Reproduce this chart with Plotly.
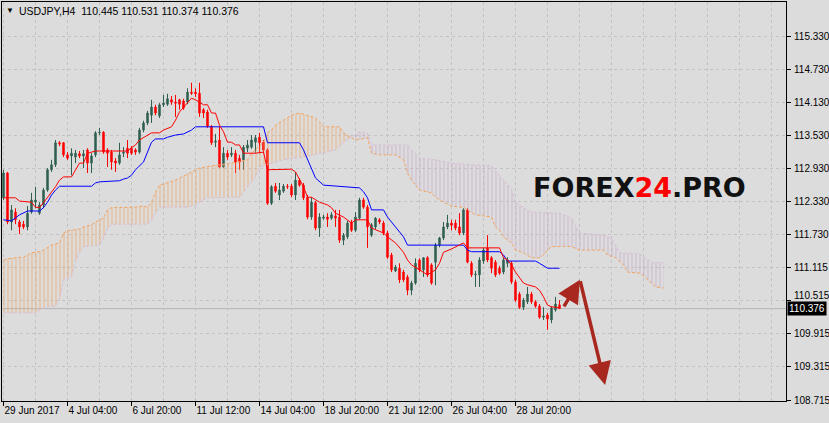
import plotly.graph_objects as go

# ---------------- data (USDJPY H4) ----------------
bars = list(range(140))
open_ = [112.39,112.84,111.95,112.13,111.95,111.91,111.86,112.13,112.31,112.11,
         112.26,112.53,112.90,112.99,113.39,113.39,113.17,113.15,113.13,113.19,
         113.15,113.26,113.02,113.17,113.57,113.58,113.26,113.22,113.06,113.02,
         113.20,113.29,113.29,113.26,113.22,113.62,113.75,113.89,114.04,113.88,
         114.08,114.09,114.17,114.13,114.17,114.15,114.13,114.31,114.31,114.29,
         113.99,113.95,113.69,113.40,113.44,112.95,113.20,113.17,113.20,113.11,
         113.08,113.29,113.31,113.40,113.49,113.40,113.26,112.29,112.60,112.44,
         112.51,112.60,112.60,112.44,112.71,112.62,112.40,112.04,112.30,111.84,
         112.02,112.04,112.02,112.06,112.04,111.62,111.68,111.95,111.80,112.02,
         112.35,112.22,111.71,111.86,111.99,111.93,111.75,111.35,111.06,111.11,
         111.04,110.95,110.71,110.84,111.26,111.08,111.30,111.17,111.22,111.53,
         111.66,111.86,111.93,111.93,111.86,111.75,112.17,111.20,110.99,110.99,
         111.24,111.48,111.30,111.22,111.11,111.04,111.20,111.20,110.86,110.64,
         110.40,110.50,110.64,110.50,110.42,110.22,110.26,110.17,110.35,110.445]
high = [112.90,112.86,112.26,112.20,111.99,111.97,112.24,112.48,112.59,112.31,
        112.57,112.93,113.08,113.44,113.42,113.40,113.22,113.29,113.26,113.24,
        113.26,113.29,113.20,113.60,113.66,113.60,113.29,113.26,113.11,113.39,
        113.31,113.44,113.33,113.29,113.66,113.79,113.97,114.17,114.08,114.11,
        114.26,114.28,114.24,114.26,114.19,114.19,114.38,114.48,114.38,114.48,
        114.02,113.99,113.71,113.55,113.68,113.31,113.26,113.31,113.26,113.17,
        113.35,113.44,113.53,113.53,113.57,113.44,113.29,112.62,112.66,112.66,
        112.64,112.64,112.64,112.86,112.75,112.66,112.44,112.40,112.33,112.11,
        112.08,112.11,112.13,112.17,112.17,111.75,111.97,111.99,112.13,112.39,
        112.39,112.26,111.93,112.04,112.02,111.97,111.79,111.39,111.17,111.20,
        111.08,110.99,110.88,111.29,111.29,111.31,111.33,111.20,111.57,111.68,
        111.95,112.08,111.99,111.99,112.11,112.20,112.20,111.24,111.06,111.31,
        111.48,111.71,111.33,111.26,111.15,111.30,111.31,111.24,110.90,110.68,
        110.57,110.77,110.68,110.53,110.46,110.40,110.30,110.42,110.59,110.531]
low = [112.35,111.91,111.80,111.91,111.73,111.82,111.80,112.10,112.20,112.08,
       112.20,112.50,112.86,112.95,113.33,113.13,113.08,112.80,113.02,113.11,
       112.93,112.84,112.84,113.13,113.53,113.19,112.95,112.90,112.86,112.99,
       113.13,113.11,113.17,113.17,113.19,113.58,113.71,113.75,113.89,113.84,
       114.04,114.06,114.08,113.86,113.99,113.99,114.09,114.26,114.22,113.86,
       113.84,113.66,113.35,113.31,112.93,112.93,113.08,113.13,112.84,112.90,
       112.90,113.22,113.28,113.20,113.20,113.20,112.26,112.26,112.48,112.35,
       112.48,112.55,112.40,112.35,112.59,112.35,112.00,111.99,111.80,111.68,
       111.99,111.86,111.99,111.86,111.57,111.53,111.64,111.77,111.77,111.99,
       112.19,111.48,111.68,111.82,111.91,111.71,111.28,111.04,111.04,110.84,
       110.86,110.62,110.62,110.81,111.04,110.95,110.95,110.81,110.80,111.49,
       111.62,111.82,111.80,111.80,111.71,111.71,111.20,110.95,110.77,110.77,
       111.19,111.22,111.02,110.95,110.99,111.00,111.13,110.82,110.50,110.37,
       110.35,110.46,110.46,110.39,110.19,110.17,109.99,110.11,110.32,110.374]
close = [112.84,111.95,112.17,111.99,111.86,111.86,112.11,112.35,112.35,112.26,
         112.53,112.90,112.99,113.39,113.37,113.17,113.11,113.20,113.20,113.15,
         113.19,113.02,113.15,113.57,113.58,113.22,113.20,113.04,113.02,113.17,
         113.22,113.20,113.20,113.22,113.62,113.75,113.93,114.04,113.93,114.08,
         114.11,114.19,114.13,114.11,114.09,114.02,114.31,114.29,114.28,113.93,
         113.93,113.69,113.39,113.42,112.95,113.20,113.13,113.20,113.04,113.04,
         113.31,113.35,113.44,113.48,113.39,113.26,112.29,112.59,112.51,112.53,
         112.60,112.59,112.44,112.71,112.62,112.39,112.04,112.31,111.84,112.04,
         112.04,112.00,112.08,112.02,111.62,111.71,111.93,111.80,112.04,112.35,
         112.22,111.86,111.90,112.02,111.95,111.75,111.31,111.08,111.13,110.90,
         110.90,110.71,110.84,111.20,111.08,111.30,110.99,110.84,111.53,111.66,
         111.86,111.93,111.89,111.84,111.75,112.17,111.22,110.99,111.00,111.26,
         111.44,111.26,111.11,110.99,111.02,111.26,111.26,110.86,110.53,110.40,
         110.53,110.64,110.50,110.42,110.22,110.24,110.19,110.39,110.46,110.376]

tenkan_bar = [0,3,4,7,8,9,10,12,13,14,15,17,18,19,20,21,23,31,32,33,34,37,39,40,42,43,44,45,46,47,48,50,51,52,53,54,55,56,57,58,59,60,63,65,66,72,73,74,75,76,77,79,81,82,83,85,87,88,91,92,95,96,98,100,101,102,104,106,108,109,110,112,115,116,124,125,126,127,128,130,131,133,134,135,136,137,139]
tenkan_val = [112.39,112.39,112.33,112.31,112.22,112.21,112.30,112.48,112.59,112.71,112.77,112.77,112.90,113.02,113.02,113.20,113.24,113.24,113.30,113.35,113.44,113.57,113.57,113.62,113.68,113.80,113.95,114.04,114.13,114.20,114.17,114.08,114.08,113.93,113.93,113.71,113.59,113.40,113.40,113.35,113.35,113.20,113.20,113.22,112.90,112.91,112.86,112.71,112.59,112.40,112.40,112.31,112.26,112.21,112.11,112.04,111.93,111.99,111.99,111.84,111.75,111.68,111.57,111.40,111.26,111.17,111.08,110.99,111.08,111.20,111.40,111.46,111.57,111.48,111.48,111.30,111.26,111.17,111.04,110.84,110.81,110.77,110.71,110.59,110.44,110.41,110.39]

kijun_bar = [0,2,4,5,6,9,10,11,12,13,14,22,23,24,29,30,31,32,33,35,36,37,38,40,41,43,45,46,47,48,65,66,74,75,76,77,78,80,84,89,90,91,92,95,96,97,99,100,101,115,116,117,124,125,126,133,134,136,139]
kijun_val = [111.99,111.97,112.08,112.11,112.15,112.15,112.21,112.31,112.44,112.53,112.60,112.60,112.66,112.68,112.70,112.73,112.75,112.80,112.90,113.04,113.22,113.40,113.46,113.46,113.49,113.53,113.55,113.59,113.62,113.68,113.68,113.39,113.39,113.26,113.08,112.90,112.75,112.62,112.60,112.57,112.50,112.39,112.17,112.17,112.04,111.95,111.75,111.68,111.53,111.53,111.44,111.41,111.41,111.35,111.24,111.24,111.20,111.11,111.11]

spanA_bar = [0,1,3,5,6,7,9,10,12,14,15,16,17,19,20,22,23,24,25,26,27,33,35,36,37,38,39,43,49,52,54,57,61,62,65,66,67,68,70,72,74,76,78,79,80,84,85,87,88,91,92,94,98,100,101,102,103,104,107,108,110,112,114,115,116,118,122,123,124,125,127,128,130,132,134,135,136,137,141,142,144,150,151,153,155,156,159,160,162,163,165]
spanA_val = [111.26,111.28,111.30,111.31,111.35,111.39,111.41,111.44,111.53,111.57,111.75,111.79,111.80,111.82,111.86,111.90,111.95,111.99,112.02,112.17,112.21,112.22,112.24,112.22,112.31,112.49,112.62,112.71,112.93,112.97,112.99,113.02,113.08,113.20,113.40,113.57,113.62,113.71,113.80,113.89,113.93,113.89,113.84,113.77,113.68,113.68,113.57,113.48,113.44,113.48,113.20,113.17,113.17,113.08,112.84,112.71,112.62,112.53,112.48,112.40,112.31,112.24,112.22,112.22,112.17,112.08,112.04,111.86,111.80,111.68,111.57,111.44,111.39,111.30,111.30,111.35,111.44,111.50,111.51,111.50,111.44,111.44,111.35,111.30,111.17,111.04,111.02,110.97,110.84,110.77,110.75]

spanB_bar = [0,8,9,11,13,14,15,17,18,19,20,24,25,26,27,36,37,38,39,46,48,49,51,59,61,63,64,67,70,75,83,85,87,89,91,92,101,102,103,104,108,112,117,122,124,127,128,130,132,139,142,144,150,152,153,154,159,162,165]
spanB_val = [110.30,110.30,110.35,110.41,110.42,110.53,110.90,110.95,111.24,111.39,111.50,111.53,111.66,111.84,111.91,111.91,111.99,112.11,112.22,112.22,112.26,112.31,112.39,112.40,112.59,112.77,112.95,113.02,113.08,113.13,113.26,113.40,113.49,113.59,113.57,113.35,113.35,113.26,113.20,113.11,113.08,113.02,112.99,112.97,112.79,112.55,112.31,112.21,112.13,112.11,112.02,111.75,111.71,111.66,111.53,111.39,111.37,111.22,111.21]

cloud_cross_bar = 87          # span A above B before, below after

x_tick_bars = [0, 16, 32, 48, 64, 80, 96, 112, 128]
x_tick_labels = ["29 Jun 2017", "4 Jul 04:00", "6 Jul 20:00", "11 Jul 12:00",
                 "14 Jul 04:00", "18 Jul 20:00", "21 Jul 12:00", "26 Jul 04:00",
                 "28 Jul 20:00"]
y_ticks = [108.715, 109.315, 109.915, 110.515, 111.115, 111.730,
           112.330, 112.930, 113.530, 114.130, 114.730, 115.330]

symbol = "USDJPY,H4"
forecast_bar = [139.9, 144.1, 150.4]
forecast_price = [110.39, 110.90, 108.99]

# ---------------- styles ----------------
BG = "#DCDCDC"
GRID = "#C3C3C3"
BULL = "#2F5F4F"
BEAR = "#FF0000"
SANDY = "#F4A460"
THISTLE = "#D8BFD8"
ARROW = "#A82820"
FONT = "Liberation Sans"


def part(xs, ys, lo, hi):
    px, py = [], []
    for a, b in zip(xs, ys):
        if lo <= a <= hi:
            px.append(a)
            py.append(b)
    return px, py


fig = go.Figure()

# cloud hatching
regions = [(-1, cloud_cross_bar, "rgba(244,164,96,1)"),
           (cloud_cross_bar, 999, "rgba(200,170,200,1)")]
for lo, hi, col in regions:
    bx, by = part(spanB_bar, spanB_val, lo, hi)
    ax_, ay_ = part(spanA_bar, spanA_val, lo, hi)
    fig.add_trace(go.Scatter(x=bx, y=by, mode="lines", line=dict(width=0),
                             hoverinfo="skip"))
    fig.add_trace(go.Scatter(x=ax_, y=ay_, mode="lines", line=dict(width=0),
                             fill="tonexty", fillcolor="rgba(0,0,0,0)",
                             fillpattern=dict(shape="|", size=4, solidity=0.22,
                                              fgcolor=col, fgopacity=0.8),
                             hoverinfo="skip"))

fig.add_trace(go.Scatter(x=spanB_bar, y=spanB_val, mode="lines",
                         line=dict(color=THISTLE, width=1, dash="3px,2px")))
fig.add_trace(go.Scatter(x=spanA_bar, y=spanA_val, mode="lines",
                         line=dict(color=SANDY, width=1, dash="3px,2px")))
fig.add_trace(go.Scatter(x=kijun_bar, y=kijun_val, mode="lines",
                         line=dict(color="#0000FF", width=1)))
fig.add_trace(go.Scatter(x=tenkan_bar, y=tenkan_val, mode="lines",
                         line=dict(color="#FF0000", width=1)))

fig.add_trace(go.Candlestick(
    x=bars, open=open_, high=high, low=low, close=close,
    increasing=dict(line=dict(color=BULL, width=1), fillcolor=BULL),
    decreasing=dict(line=dict(color=BEAR, width=1), fillcolor=BEAR),
    whiskerwidth=0))

last = close[-1]
fig.add_shape(type="line", xref="paper", x0=0, x1=1, yref="y", y0=last, y1=last,
              line=dict(color="#B4B4B4", width=1), layer="below")

# forecast arrows
for k in range(2):
    fig.add_annotation(x=forecast_bar[k + 1], y=forecast_price[k + 1],
                       ax=forecast_bar[k], ay=forecast_price[k],
                       xref="x", yref="y", axref="x", ayref="y", text="",
                       showarrow=True, arrowhead=2, arrowsize=1.3,
                       arrowwidth=3.5, arrowcolor=ARROW)

# y tick labels (right side); the one nearest the price tag is nudged up
for v in y_ticks:
    shift = 5 if abs(v - last) < 0.2 else 0
    fig.add_annotation(xref="paper", yref="y", x=1, y=v, xanchor="left",
                       yanchor="middle", xshift=6, yshift=shift,
                       text=f"{v:.3f}", showarrow=False,
                       font=dict(size=10, color="black", family=FONT))

# header
fig.add_annotation(xref="paper", yref="paper", x=0.0102, y=0.978, text="▼",
                   showarrow=False, font=dict(size=8, color="black", family=FONT),
                   xanchor="center", yanchor="middle")
fig.add_annotation(xref="paper", yref="paper", x=0.019, y=0.978,
                   text=f"{symbol}  {open_[-1]:.3f} {high[-1]:.3f} {low[-1]:.3f} {close[-1]:.3f}",
                   showarrow=False, font=dict(size=10.5, color="black", family=FONT),
                   xanchor="left", yanchor="middle")

# watermark
fig.add_annotation(xref="paper", yref="paper", x=0.8125, y=0.534,
                   text="<b>FOREX<span style='color:#FF0000'>24</span>.PRO</b>",
                   showarrow=False, font=dict(size=27, color="#111111", family="DejaVu Sans"),
                   xanchor="center", yanchor="middle")

# current price tag
fig.add_annotation(xref="paper", yref="y", x=1, y=last, xanchor="left", xshift=1,
                   yanchor="middle",
                   text=f"{last:.3f}", showarrow=False, bgcolor="black",
                   font=dict(size=10, color="white", family=FONT), borderpad=1)

fig.update_layout(
    width=829, height=423,
    margin=dict(l=2, r=43, t=2, b=22, autoexpand=False),
    paper_bgcolor=BG, plot_bgcolor=BG, showlegend=False, boxgap=0.5,
    hovermode=False,
)
fig.update_xaxes(
    range=[-0.375, 195.625], tickmode="array", tickvals=x_tick_bars,
    ticktext=x_tick_labels, ticks="outside", ticklen=4, tickcolor="black",
    ticklabelposition="outside right", automargin=False,
    tickfont=dict(size=10, color="black", family=FONT),
    showline=True, linecolor="black", linewidth=1, mirror=True,
    showgrid=True, gridcolor=GRID, griddash="3px,3px", gridwidth=1,
    minor=dict(tickmode="linear", tick0=0, dtick=8, showgrid=True,
               gridcolor=GRID, griddash="3px,3px", ticks=""),
    zeroline=False, rangeslider=dict(visible=False),
)
fig.update_yaxes(
    side="right", range=[108.697, 115.948], tickmode="array", tickvals=y_ticks,
    showticklabels=False, ticks="outside", ticklen=4, automargin=False,
    tickcolor="black",
    showline=True, linecolor="black", linewidth=1, mirror=True,
    showgrid=True, gridcolor=GRID, griddash="3px,3px", gridwidth=1,
    zeroline=False,
)

fig.write_html("out.html", config={"displayModeBar": False, "staticPlot": True},
               post_script="document.body.style.margin='0';"
                           "document.body.style.overflow='hidden';"
                           "document.body.style.background='" + BG + "';")
